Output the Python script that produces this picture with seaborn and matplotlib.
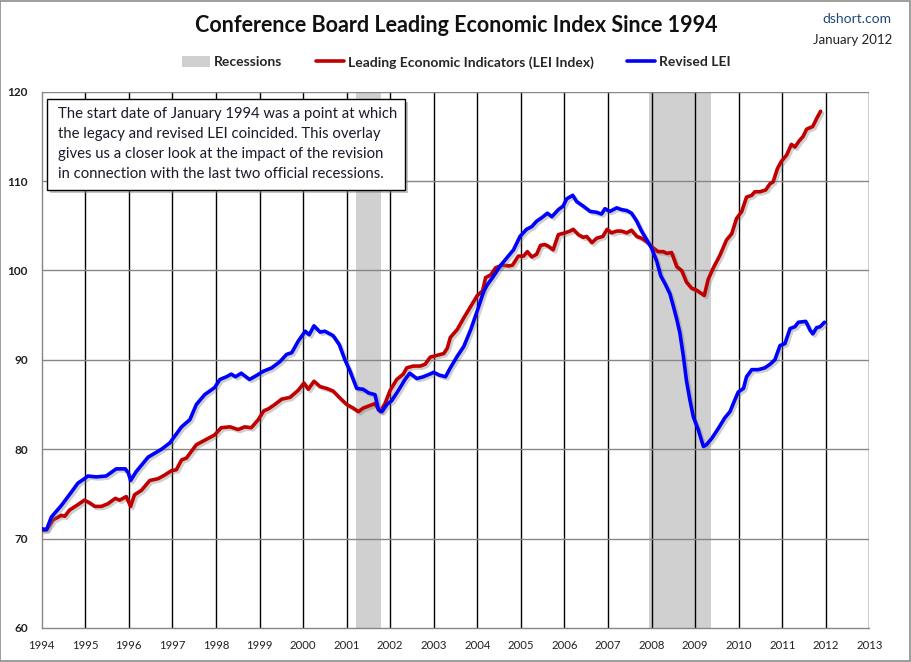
import matplotlib
matplotlib.use("Agg")
import matplotlib.pyplot as plt
import matplotlib.patheffects as pe
from matplotlib.patches import Rectangle, Patch
from matplotlib.lines import Line2D
import seaborn as sns
import pandas as pd

# ---------------- data ----------------
lei_years = [1994.00, 1994.11, 1994.26, 1994.45, 1994.53, 1994.64, 1994.80, 1994.98, 1995.10, 1995.22,
             1995.37, 1995.52, 1995.69, 1995.79, 1995.94, 1996.04, 1996.13, 1996.29, 1996.48, 1996.67,
             1996.82, 1996.98, 1997.09, 1997.21, 1997.32, 1997.55, 1997.74, 1997.97, 1998.12, 1998.32,
             1998.51, 1998.66, 1998.81, 1998.97, 1999.10, 1999.20, 1999.35, 1999.51, 1999.70, 1999.89,
             2000.02, 2000.12, 2000.25, 2000.39, 2000.54, 2000.69, 2000.85, 2001.00, 2001.15, 2001.27,
             2001.38, 2001.54, 2001.65, 2001.77, 2001.88, 2002.00, 2002.15, 2002.30, 2002.38, 2002.53,
             2002.69, 2002.80, 2002.92, 2003.08, 2003.23, 2003.31, 2003.38, 2003.54, 2003.69, 2003.85,
             2004.00, 2004.12, 2004.19, 2004.31, 2004.42, 2004.58, 2004.73, 2004.81, 2004.94, 2005.06,
             2005.15, 2005.25, 2005.36, 2005.45, 2005.55, 2005.63, 2005.74, 2005.86, 2006.01, 2006.13,
             2006.20, 2006.32, 2006.43, 2006.51, 2006.63, 2006.74, 2006.88, 2006.98, 2007.08, 2007.20,
             2007.31, 2007.43, 2007.54, 2007.66, 2007.77, 2007.89, 2008.04, 2008.15, 2008.27, 2008.35,
             2008.46, 2008.58, 2008.69, 2008.80, 2008.92, 2009.03, 2009.12, 2009.21, 2009.30, 2009.42,
             2009.57, 2009.72, 2009.84, 2009.95, 2010.07, 2010.18, 2010.30, 2010.37, 2010.49, 2010.62,
             2010.72, 2010.79, 2010.89, 2010.98, 2011.10, 2011.21, 2011.29, 2011.39, 2011.48, 2011.56,
             2011.70, 2011.79, 2011.88]
lei_values = [70.9, 71.0, 72.1, 72.6, 72.5, 73.2, 73.7, 74.3, 74.0, 73.6,
              73.6, 73.9, 74.5, 74.3, 74.7, 73.6, 74.9, 75.4, 76.5, 76.7,
              77.1, 77.6, 77.7, 78.8, 79.0, 80.5, 81.0, 81.6, 82.4, 82.5,
              82.2, 82.5, 82.4, 83.3, 84.3, 84.5, 85.0, 85.6, 85.8, 86.6,
              87.4, 86.7, 87.6, 87.0, 86.8, 86.5, 85.7, 85.0, 84.6, 84.2,
              84.6, 84.9, 85.1, 84.2, 85.1, 86.6, 87.8, 88.4, 89.1, 89.3,
              89.3, 89.5, 90.3, 90.5, 90.7, 91.3, 92.5, 93.4, 94.7, 96.0,
              97.2, 97.7, 99.2, 99.5, 100.3, 100.6, 100.5, 100.6, 101.6, 101.6,
              102.1, 101.5, 101.8, 102.8, 102.9, 102.7, 102.3, 104.0, 104.2, 104.4,
              104.6, 104.0, 103.7, 103.8, 103.1, 103.6, 103.8, 104.6, 104.2, 104.4,
              104.4, 104.2, 104.5, 103.8, 103.6, 103.2, 102.5, 102.1, 102.1, 101.9,
              102.0, 100.4, 100.0, 98.7, 98.0, 97.8, 97.5, 97.2, 99.0, 100.3,
              101.7, 103.4, 104.1, 105.8, 106.6, 108.2, 108.4, 108.8, 108.8, 109.0,
              109.7, 109.9, 111.4, 112.2, 112.9, 114.1, 113.8, 114.5, 115.0, 115.8,
              116.1, 117.0, 117.8]

rev_years = [1994.00, 1994.11, 1994.22, 1994.45, 1994.68, 1994.83, 1994.98, 1995.06, 1995.25, 1995.48,
             1995.71, 1995.92, 1995.99, 1996.04, 1996.17, 1996.44, 1996.75, 1996.94, 1997.21, 1997.40,
             1997.55, 1997.74, 1997.97, 1998.09, 1998.24, 1998.35, 1998.45, 1998.58, 1998.77, 1998.95,
             1999.08, 1999.28, 1999.47, 1999.62, 1999.74, 1999.89, 2000.05, 2000.14, 2000.25, 2000.39,
             2000.50, 2000.69, 2000.83, 2000.96, 2001.08, 2001.23, 2001.38, 2001.50, 2001.65, 2001.73,
             2001.81, 2001.92, 2002.03, 2002.19, 2002.34, 2002.45, 2002.61, 2002.76, 2002.91, 2003.00,
             2003.12, 2003.27, 2003.38, 2003.54, 2003.69, 2003.85, 2004.00, 2004.15, 2004.23, 2004.35,
             2004.54, 2004.71, 2004.83, 2004.98, 2005.13, 2005.25, 2005.36, 2005.48, 2005.61, 2005.71,
             2005.86, 2005.97, 2006.05, 2006.19, 2006.28, 2006.43, 2006.59, 2006.74, 2006.85, 2006.93,
             2007.04, 2007.20, 2007.31, 2007.43, 2007.54, 2007.66, 2007.77, 2007.89, 2008.00, 2008.12,
             2008.21, 2008.31, 2008.42, 2008.50, 2008.58, 2008.65, 2008.73, 2008.80, 2008.88, 2008.96,
             2009.07, 2009.19, 2009.26, 2009.38, 2009.53, 2009.68, 2009.80, 2009.91, 2009.99, 2010.11,
             2010.18, 2010.30, 2010.45, 2010.60, 2010.72, 2010.83, 2010.95, 2011.06, 2011.18, 2011.29,
             2011.37, 2011.54, 2011.64, 2011.70, 2011.79, 2011.87, 2011.97]
rev_values = [71.1, 71.0, 72.4, 73.7, 75.2, 76.2, 76.7, 77.0, 76.9, 77.0,
              77.8, 77.8, 77.3, 76.5, 77.5, 79.1, 80.0, 80.7, 82.5, 83.3,
              85.0, 86.1, 86.9, 87.8, 88.1, 88.4, 88.1, 88.5, 87.8, 88.3,
              88.7, 89.1, 89.8, 90.6, 90.8, 92.1, 93.2, 92.8, 93.8, 93.1,
              93.2, 92.7, 91.7, 90.0, 88.7, 86.8, 86.7, 86.3, 86.1, 84.4,
              84.2, 85.0, 85.4, 86.6, 87.8, 88.5, 87.9, 88.1, 88.4, 88.6,
              88.3, 88.1, 89.1, 90.4, 91.5, 93.4, 95.5, 97.7, 98.4, 99.2,
              100.6, 101.6, 102.3, 103.8, 104.6, 104.9, 105.5, 105.9, 106.4, 106.0,
              106.8, 107.2, 108.0, 108.4, 107.7, 107.2, 106.6, 106.5, 106.3, 106.9,
              106.6, 107.0, 106.8, 106.7, 106.4, 105.5, 104.4, 103.4, 102.5, 101.0,
              99.4, 98.5, 97.4, 96.0, 94.5, 93.0, 90.4, 87.7, 85.5, 83.6,
              82.2, 80.3, 80.5, 81.2, 82.3, 83.5, 84.2, 85.5, 86.4, 86.8,
              88.1, 88.9, 88.9, 89.1, 89.5, 90.0, 91.6, 91.8, 93.5, 93.7,
              94.2, 94.3, 93.3, 92.9, 93.6, 93.7, 94.2]

recession_starts = [2001.21, 2007.95]
recession_ends = [2001.79, 2009.37]

year_ticks = list(range(1994, 2014))
value_ticks = [60, 70, 80, 90, 100, 110, 120]

title = "Conference Board Leading Economic Index Since 1994"
note = ("The start date of January 1994 was a point at which\n"
        "the legacy and revised LEI coincided. This overlay\n"
        "gives us a closer look at the impact of the revision\n"
        "in connection with the last two official recessions.")

# ---------------- style ----------------
sns.set_style("white")
plt.rcParams["font.family"] = ["Lato", "DejaVu Sans"]

RED = "#C00000"
BLUE = "#0000FF"
GRAY_SHADE = "#D0D0D0"

fig = plt.figure(figsize=(9.11, 6.62), dpi=100)
ax = fig.add_axes([0.0458, 0.0514, 0.9085, 0.8102])

lei_df = pd.DataFrame({"year": lei_years, "value": lei_values})
rev_df = pd.DataFrame({"year": rev_years, "value": rev_values})

for s, e in zip(recession_starts, recession_ends):
    ax.axvspan(s, e, color=GRAY_SHADE, zorder=0, lw=0)

shadow = [pe.SimpleLineShadow(offset=(1.5, -1.5), shadow_color="#777777", alpha=0.35),
          pe.Normal()]

sns.lineplot(data=lei_df, x="year", y="value", ax=ax, color=RED, lw=2.6,
             sort=False, estimator=None, zorder=4, path_effects=shadow)
sns.lineplot(data=rev_df, x="year", y="value", ax=ax, color=BLUE, lw=2.6,
             sort=False, estimator=None, zorder=5, path_effects=shadow)

ax.set_xlim(1994, 2013)
ax.set_ylim(60, 120)
ax.set_xticks(year_ticks)
ax.set_xticklabels([str(y) for y in year_ticks], fontsize=8.2, color="#222222")
ax.set_yticks(value_ticks)
ax.set_yticklabels([str(v) for v in value_ticks], fontsize=8.5, fontweight="bold", color="#222222")
ax.set_xlabel("")
ax.set_ylabel("")

ax.grid(False)
for y in year_ticks[1:]:
    ax.axvline(y, color="black", lw=1.0, zorder=1)
for v in value_ticks[1:]:
    ax.axhline(v, color="#868686", lw=1.0, zorder=1)

for side in ["top", "right"]:
    ax.spines[side].set_visible(False)
for side in ["left", "bottom"]:
    ax.spines[side].set_color("#868686")
    ax.spines[side].set_linewidth(1.0)
    ax.spines[side].set_zorder(2)

ax.tick_params(axis="x", which="major", direction="out", length=4, color="#868686", pad=5)
ax.tick_params(axis="y", which="major", direction="out", length=4, color="#868686", pad=6)

# annotation box
box = Rectangle((0.0064, 0.8166), 0.4326, 0.1696, transform=ax.transAxes,
                facecolor="white", edgecolor="black", lw=1.0, zorder=6)
box.set_path_effects([pe.withSimplePatchShadow(offset=(2, -2), shadow_rgbFace="#888888", alpha=0.5)])
ax.add_patch(box)
ax.text(0.0195, 0.9715, note, transform=ax.transAxes, ha="left", va="top",
        fontsize=10.7, color="#1a1a2a", linespacing=1.55, zorder=7)

# title and source
fig.text(0.5005, 0.961, title, ha="center", va="center", fontsize=15.5, fontweight="bold",
         color="#111111")
fig.text(0.979, 0.971, "dshort.com", ha="right", va="center", fontsize=10,
         color="#1F497D")
fig.text(0.979, 0.939, "January 2012", ha="right", va="center", fontsize=9.5,
         color="#222222")

# legend
handles = [Patch(facecolor=GRAY_SHADE, edgecolor="none"),
           Line2D([0], [0], color=RED, lw=2.6),
           Line2D([0], [0], color=BLUE, lw=2.6)]
labels = ["Recessions", "Leading Economic Indicators (LEI Index)", "Revised LEI"]
fig.legend(handles, labels, loc="center", bbox_to_anchor=(0.501, 0.906), ncol=3,
           frameon=False, prop={"weight": "bold", "size": 10.0}, handlelength=2.0,
           handletextpad=0.3, columnspacing=2.4, handleheight=0.9)

# outer border
fig.patches.append(Rectangle((0.0005, 0.0008), 0.998, 0.998, transform=fig.transFigure,
                             fill=False, edgecolor="#8c8c8c", lw=1.2))

fig.savefig("out.png", dpi=100, facecolor="white")
